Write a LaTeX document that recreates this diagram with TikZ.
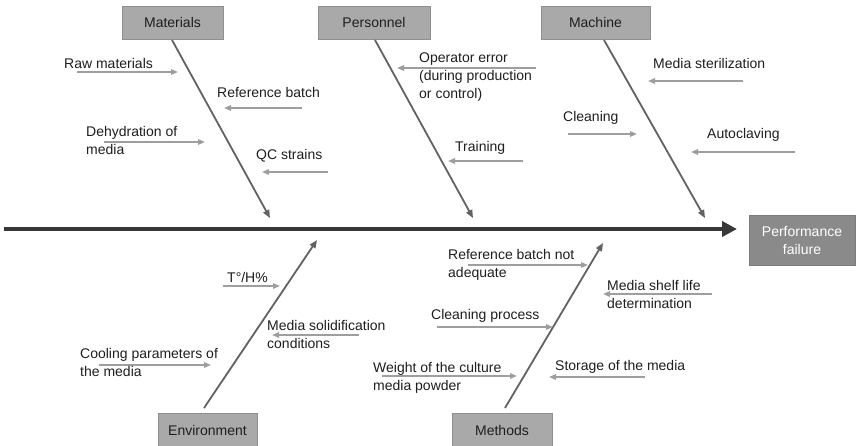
\documentclass[tikz,border=0pt]{standalone}
\usepackage{fontspec}
\setmainfont{Liberation Sans}
\usetikzlibrary{arrows.meta}

\definecolor{boxgray}{HTML}{A9A9A9}
\definecolor{boxedge}{HTML}{8F8F8F}
\definecolor{effectgray}{HTML}{8A8A8A}
\definecolor{bonegray}{HTML}{626262}
\definecolor{twiggray}{HTML}{9E9E9E}
\definecolor{spinegray}{HTML}{383838}
\definecolor{inkcol}{HTML}{1E1E1E}

\begin{document}
\begin{tikzpicture}[x=1pt,y=-1pt,
  every node/.style={font=\fontsize{14}{18}\selectfont, text=inkcol},
  catbox/.style={draw=boxedge, fill=boxgray, line width=0.8pt, inner sep=0pt,
                 minimum height=33pt},
  effectbox/.style={draw=effectgray!90!black, fill=effectgray, line width=0.8pt,
                 inner sep=0pt, minimum width=106pt, minimum height=50pt,
                 align=center, text=white},
  cause/.style={inner sep=0pt, anchor=north west, align=left},
  spine/.style={draw=spinegray, line width=4.5pt,
                -{Triangle[length=15pt,width=15pt]}},
  bone/.style={draw=bonegray, line width=1.8pt,
               -{Triangle[length=8pt,width=6.5pt]}},
  twig/.style={draw=twiggray, line width=1.6pt,
               -{Triangle[length=7pt,width=5.5pt]}},
]
\useasboundingbox (0,0) rectangle (865,445);

% category boxes
\node[catbox, minimum width=101pt] (materials) at (172.5,22.5) {Materials};
\node[catbox, minimum width=112pt] (personnel) at (374,22.5) {Personnel};
\node[catbox, minimum width=109pt] (machine) at (595.5,22.5) {Machine};
\node[catbox, minimum width=99pt, minimum height=34pt] (environment) at (207.5,430) {Environment};
\node[catbox, minimum width=100pt, minimum height=34pt] (methods) at (502,430) {Methods};

% effect
\node[effectbox] (effect) at (802,240) {Performance\\failure};

% main spine
\coordinate (spine-s) at (4,229);
\coordinate (spine-t) at (737,229);
\draw[spine] (spine-s) -- (spine-t);

% major bones
\coordinate (mat-s) at (172,40);   \coordinate (mat-t) at (270,218);
\coordinate (per-s) at (375,40);   \coordinate (per-t) at (473,218);
\coordinate (mac-s) at (604,40);   \coordinate (mac-t) at (705,218);
\coordinate (env-s) at (204,408);  \coordinate (env-t) at (317,240);
\coordinate (met-s) at (505,408);  \coordinate (met-t) at (603,243);
\foreach \b in {mat,per,mac,env,met}
  \draw[bone] (\b-s) -- (\b-t);

% cause arrows: name / start x / tip x / y
\foreach \n/\sx/\tx/\y in {
    rawmat/77/178/72, refbatch/302/224/108, dehyd/104/205/142, qcs/328/262/172,
    operr/536/397/68, training/523/448/161,
    medster/743/648/81, cleaning/568/637/134, autoclav/795/691/152,
    temphum/223/280/286, medsol/359/272/335, cooling/99/211/365,
    refnot/468/588/265, shelf/712/603/294, cleanproc/437/553/327,
    weight/382/517/376, storage/645/549/377}
{
  \coordinate (\n-s) at (\sx,\y);
  \coordinate (\n-t) at (\tx,\y);
  \draw[twig] (\n-s) -- (\n-t);
}

% cause labels
\node[cause] (rawmat)    at (64,58)   {Raw materials};
\node[cause] (refbatch)  at (217,87)  {Reference batch};
\node[cause] (dehyd)     at (86,126)  {Dehydration of\\media};
\node[cause] (qcs)       at (256,149) {QC strains};
\node[cause] (operr)     at (419,53)  {Operator error\\(during production\\or control)};
\node[cause] (training)  at (455,141) {Training};
\node[cause] (medster)   at (653,58)  {Media sterilization};
\node[cause] (cleaning)  at (563,111) {Cleaning};
\node[cause] (autoclav)  at (707,128) {Autoclaving};
\node[cause] (temphum)   at (227,272) {T°/H\%};
\node[cause] (medsol)    at (267,320) {Media solidification\\conditions};
\node[cause] (cooling)   at (80,348)  {Cooling parameters of\\the media};
\node[cause] (refnot)    at (448,249) {Reference batch not\\adequate};
\node[cause] (shelf)     at (607,280) {Media shelf life\\determination};
\node[cause] (cleanproc) at (431,309) {Cleaning process};
\node[cause] (weight)    at (373,362) {Weight of the culture\\media powder};
\node[cause] (storage)   at (555,360) {Storage of the media};
\end{tikzpicture}
\end{document}
